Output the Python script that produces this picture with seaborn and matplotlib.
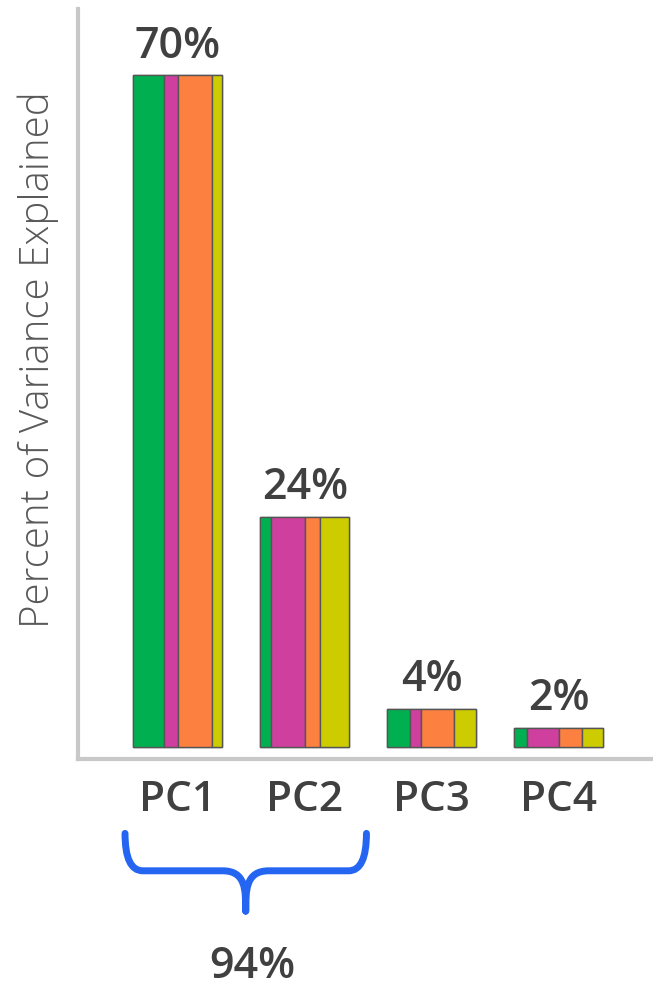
import matplotlib
matplotlib.use("Agg")
import matplotlib.pyplot as plt
from matplotlib.path import Path
from matplotlib.patches import PathPatch
import seaborn as sns
import pandas as pd
import numpy as np

# ---- data ----
components = ["PC1", "PC2", "PC3", "PC4"]
variance = [70, 24, 4, 2]
value_labels = ["70%", "24%", "4%", "2%"]
segment_names = ["green", "magenta", "orange", "yellow"]
seg_green = [0.345, 0.120, 0.254, 0.139]
seg_magenta = [0.161, 0.378, 0.127, 0.361]
seg_orange = [0.382, 0.176, 0.369, 0.254]
seg_yellow = [0.112, 0.326, 0.250, 0.246]
seg_colors = ["#00B050", "#CE3F9E", "#FC8040", "#CCCC00"]
cumulative_label = "94%"

sns.set_theme(style="white")
plt.rcParams["font.family"] = ["Open Sans", "DejaVu Sans"]

df = pd.DataFrame({"component": components, "variance": variance})
segs = [seg_green, seg_magenta, seg_orange, seg_yellow]

fig = plt.figure(figsize=(6.53, 9.87), dpi=100)
ax = fig.add_axes([78 / 653, 1 - 760 / 987, 1 - 78 / 653, 750 / 987])

sns.barplot(data=df, x="component", y="variance", width=0.7, color=seg_colors[0],
            edgecolor="#555555", linewidth=1, ax=ax)

# split each bar into coloured stripes
for i, patch in enumerate(list(ax.patches)):
    x0 = patch.get_x()
    w = patch.get_width()
    h = patch.get_height()
    left = x0
    for j, seg in enumerate(segs):
        sw = seg[i] * w
        ax.bar(left, h, width=sw, align="edge", color=seg_colors[j],
               edgecolor="#555555", linewidth=1, zorder=3)
        left += sw
    ax.annotate(value_labels[i], (x0 + w / 2, h), xytext=(0, 6), textcoords="offset points",
                ha="center", va="bottom", fontsize=31, fontweight="semibold", color="#404040")

ax.set_xlim(-0.785, 3.74)
ax.set_ylim(-1.25, 76.9)
ax.set_yticks([])
ax.set_xlabel("")
ax.set_ylabel("Percent of Variance Explained", fontsize=29, fontweight="light",
              color="#595959")
ax.yaxis.set_label_coords(-19 / 575, (760 - 360) / 750)
ax.tick_params(axis="x", length=0, pad=14, labelsize=30.5, labelcolor="#404040")
for lbl in ax.get_xticklabels():
    lbl.set_fontweight("semibold")
for s in ["top", "right"]:
    ax.spines[s].set_visible(False)
for s in ["left", "bottom"]:
    ax.spines[s].set_color("#C8C8C8")
    ax.spines[s].set_linewidth(3)

# brace under PC1 + PC2
xc, half = 0.535, 0.95
xl, xr = xc - half, xc + half
y0, yh, yt = -9.0, -12.9, -17.1
r = 0.14
verts = [
    (xl, y0), (xl, yh), (xl + r, yh),
    (xc - r * 1.3, yh),
    (xc, yh), (xc, yh - 2.0), (xc, yt),
    (xc, yh - 2.0), (xc, yh), (xc + r * 1.3, yh),
    (xr - r, yh),
    (xr, yh), (xr, y0),
]
codes = [Path.MOVETO, Path.CURVE3, Path.CURVE3, Path.LINETO,
         Path.CURVE4, Path.CURVE4, Path.CURVE4,
         Path.CURVE4, Path.CURVE4, Path.CURVE4,
         Path.LINETO, Path.CURVE3, Path.CURVE3]
brace = PathPatch(Path(verts, codes), facecolor="none", edgecolor="#2466F2", linewidth=5,
                  capstyle="round", joinstyle="round", clip_on=False)
ax.add_patch(brace)
ax.text(0.59, -22.8, cumulative_label, ha="center", va="center", fontsize=31,
        fontweight="semibold", color="#404040", clip_on=False)

fig.savefig("out.png", dpi=100)
